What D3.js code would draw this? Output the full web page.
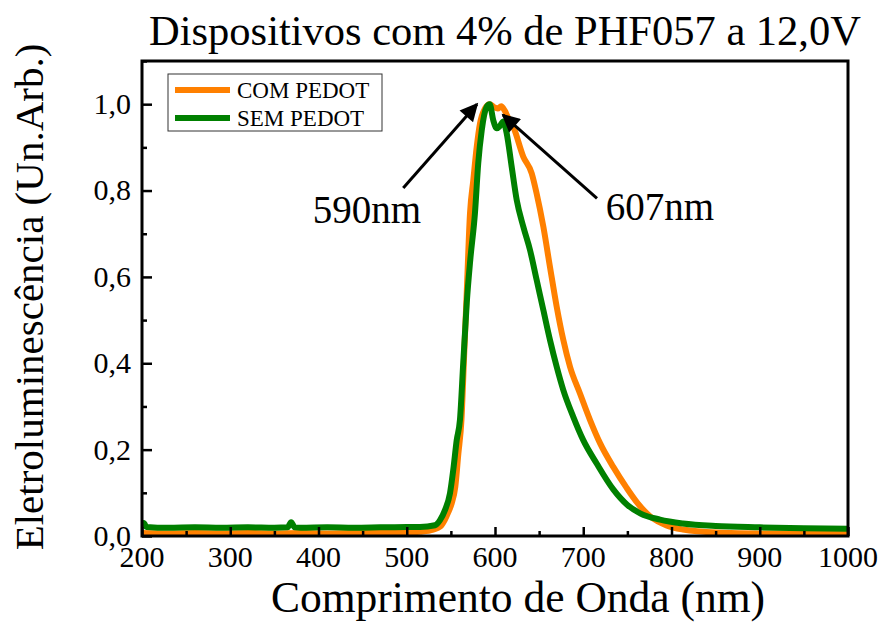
<!DOCTYPE html>
<html>
<head>
<meta charset="utf-8">
<script src="https://cdn.jsdelivr.net/npm/d3@7"></script>
<style>
  body { margin: 0; background: #fff; }
  svg text { font-family: "Liberation Serif", "Times New Roman", serif; fill: #000; }
</style>
</head>
<body>
<div class="chart"></div>
<script>
// values
const comNm = [200, 230, 260, 290, 320, 350, 380, 410, 440, 470, 500, 515, 530, 538, 543, 547, 551, 555, 558.5, 562, 565, 568, 571.7, 575.4, 579.3, 583, 588.7, 594, 599, 603, 607, 611, 615, 620.8, 632.1, 641.6, 647.2, 654.8, 662.3, 669.9, 677.4, 685, 696.3, 707.6, 719, 734, 749, 762, 776, 795, 813, 851, 900, 950, 1000];
const comVal = [0.007, 0.006, 0.007, 0.006, 0.007, 0.006, 0.007, 0.006, 0.007, 0.007, 0.008, 0.01, 0.015, 0.022, 0.037, 0.055, 0.076, 0.114, 0.191, 0.269, 0.417, 0.565, 0.748, 0.824, 0.901, 0.955, 0.99, 1.0, 0.993, 0.99, 0.995, 0.985, 0.968, 0.947, 0.878, 0.840, 0.793, 0.716, 0.623, 0.531, 0.454, 0.392, 0.330, 0.269, 0.215, 0.160, 0.112, 0.075, 0.045, 0.024, 0.015, 0.008, 0.006, 0.006, 0.005];

const semNm = [200, 202, 205, 230, 260, 290, 320, 350, 365, 369, 373, 380, 410, 440, 470, 500, 515, 532, 537.7, 543.3, 549, 552.7, 556.6, 560.3, 564, 568, 572, 577.3, 581, 585, 590.6, 594, 598, 602, 605.7, 609.4, 613.3, 618.9, 624.6, 632.1, 639.7, 647.2, 654.8, 662.3, 669.9, 677.4, 688.7, 700, 715.2, 734, 750, 765, 787, 813, 850, 900, 950, 1000];
const semVal = [0.02, 0.03, 0.021, 0.019, 0.02, 0.019, 0.02, 0.019, 0.02, 0.032, 0.02, 0.019, 0.02, 0.019, 0.02, 0.021, 0.021, 0.025, 0.037, 0.06, 0.099, 0.153, 0.222, 0.269, 0.40, 0.54, 0.64, 0.748, 0.863, 0.94, 0.994, 1.0, 0.963, 0.944, 0.95, 0.96, 0.932, 0.855, 0.778, 0.716, 0.662, 0.593, 0.523, 0.454, 0.392, 0.338, 0.276, 0.222, 0.168, 0.108, 0.072, 0.052, 0.038, 0.029, 0.023, 0.02, 0.018, 0.017];

const xTicks = [200, 300, 400, 500, 600, 700, 800, 900, 1000];
const yTicks = [0, 0.2, 0.4, 0.6, 0.8, 1.0];
const seriesNames = ['COM PEDOT', 'SEM PEDOT'];
const seriesColors = ['#ff8000', '#008000'];
// annotations: [label, text x, text y, arrow tail x, tail y, tip x, tip y] in data units
const notes = [
  ['590nm', 455, 0.724, 496, 0.806, 579.6, 1.0],
  ['607nm', 787, 0.731, 715.6, 0.782, 609, 0.975]
];

const FONT = '"Liberation Serif", "Times New Roman", serif';
const W = 881, H = 622;
const margin = { top: 61, right: 33, bottom: 86, left: 142 };
const width = W - margin.left - margin.right,
      height = H - margin.top - margin.bottom;

const svg = d3.select('.chart').append('svg')
  .attr('width', W).attr('height', H);

const g = svg.append('g')
  .attr('transform', 'translate(' + margin.left + ',' + margin.top + ')');

const x = d3.scaleLinear().domain([200, 1000]).range([0, width]);
const y = d3.scaleLinear().domain([0, 1.1]).range([height, 0]);

const line = d3.line()
  .x(d => x(d[0]))
  .y(d => y(d[1]))
  .curve(d3.curveMonotoneX);

const series = [
  d3.zip(comNm, comVal),
  d3.zip(semNm, semVal)
];

svg.append('clipPath').attr('id', 'clip')
  .append('rect').attr('width', width).attr('height', height + 2).attr('y', -2);

g.append('g').attr('clip-path', 'url(#clip)')
  .selectAll('path')
  .data(series)
  .join('path')
  .attr('d', line)
  .attr('fill', 'none')
  .attr('stroke', (d, i) => seriesColors[i])
  .attr('stroke-width', 6)
  .attr('stroke-linejoin', 'round');

// axes: ticks point inward
const xAxis = g.append('g')
  .attr('transform', 'translate(0,' + height + ')')
  .call(d3.axisBottom(x).tickValues(d3.range(200, 1001, 50)).tickSize(-5).tickFormat(''));
xAxis.selectAll('.tick line')
  .filter(d => d % 100 === 0)
  .attr('y2', -9);
xAxis.selectAll('.tick line').attr('stroke-width', 2.5);

const yAxis = g.append('g')
  .call(d3.axisLeft(y).tickValues(d3.range(0, 1.101, 0.1)).tickSize(-5).tickFormat(''));
yAxis.selectAll('.tick line')
  .filter(d => Math.round(d * 10) % 2 === 0)
  .attr('x2', 10);
yAxis.selectAll('.tick line').attr('stroke-width', 2.5);
g.selectAll('.domain').remove();

// frame
g.append('rect')
  .attr('width', width).attr('height', height)
  .attr('fill', 'none').attr('stroke', '#000').attr('stroke-width', 3);

// tick labels
g.selectAll('.xlab')
  .data(xTicks)
  .join('text')
  .attr('class', 'xlab')
  .attr('x', d => x(d))
  .attr('y', height + 31)
  .attr('text-anchor', 'middle')
  .attr('font-family', FONT)
  .style('font-size', '30px')
  .text(d => d);

g.selectAll('.ylab')
  .data(yTicks)
  .join('text')
  .attr('class', 'ylab')
  .attr('x', -11)
  .attr('y', d => y(d))
  .attr('dy', '0.33em')
  .attr('text-anchor', 'end')
  .attr('font-family', FONT)
  .style('font-size', '30px')
  .text(d => d3.format('.1f')(d).replace('.', ','));

// titles
svg.append('text')
  .attr('x', 505).attr('y', 45)
  .attr('text-anchor', 'middle')
  .attr('font-family', FONT)
  .style('font-size', '42.5px')
  .text('Dispositivos com 4% de PHF057 a 12,0V');

svg.append('text')
  .attr('x', 518).attr('y', 612)
  .attr('text-anchor', 'middle')
  .attr('font-family', FONT)
  .style('font-size', '43.5px')
  .text('Comprimento de Onda (nm)');

svg.append('text')
  .attr('transform', 'translate(43,297) rotate(-90)')
  .attr('text-anchor', 'middle')
  .attr('font-family', FONT)
  .style('font-size', '41px')
  .text('Eletroluminescência (Un.Arb.)');

// arrows
svg.append('defs').append('marker')
  .attr('id', 'head')
  .attr('viewBox', '0 0 10 10')
  .attr('refX', 9).attr('refY', 5)
  .attr('markerWidth', 7).attr('markerHeight', 6)
  .attr('markerUnits', 'strokeWidth')
  .attr('orient', 'auto')
  .append('path')
  .attr('d', 'M0,0 L10,5 L0,10 z')
  .attr('fill', '#000');

g.selectAll('.arrow')
  .data(notes)
  .join('line')
  .attr('class', 'arrow')
  .attr('x1', d => x(d[3])).attr('y1', d => y(d[4]))
  .attr('x2', d => x(d[5])).attr('y2', d => y(d[6]))
  .attr('stroke', '#000')
  .attr('stroke-width', 3)
  .attr('marker-end', 'url(#head)');

g.selectAll('.note')
  .data(notes)
  .join('text')
  .attr('class', 'note')
  .attr('x', d => x(d[1])).attr('y', d => y(d[2]))
  .attr('text-anchor', 'middle')
  .attr('font-family', FONT)
  .style('font-size', '39px')
  .text(d => d[0]);

// legend
const leg = svg.append('g').attr('transform', 'translate(168,74)');
leg.append('rect')
  .attr('width', 214).attr('height', 57)
  .attr('fill', '#fff').attr('stroke', '#333').attr('stroke-width', 1);
const items = leg.selectAll('.item')
  .data(seriesNames)
  .join('g')
  .attr('transform', (d, i) => 'translate(0,' + (16 + i * 28) + ')');
items.append('line')
  .attr('x1', 7).attr('x2', 62)
  .attr('stroke', (d, i) => seriesColors[i])
  .attr('stroke-width', 6);
items.append('text')
  .attr('x', 69).attr('dy', '0.35em')
  .attr('font-family', FONT)
  .style('font-size', '23px')
  .text(d => d);
</script>
</body>
</html>
